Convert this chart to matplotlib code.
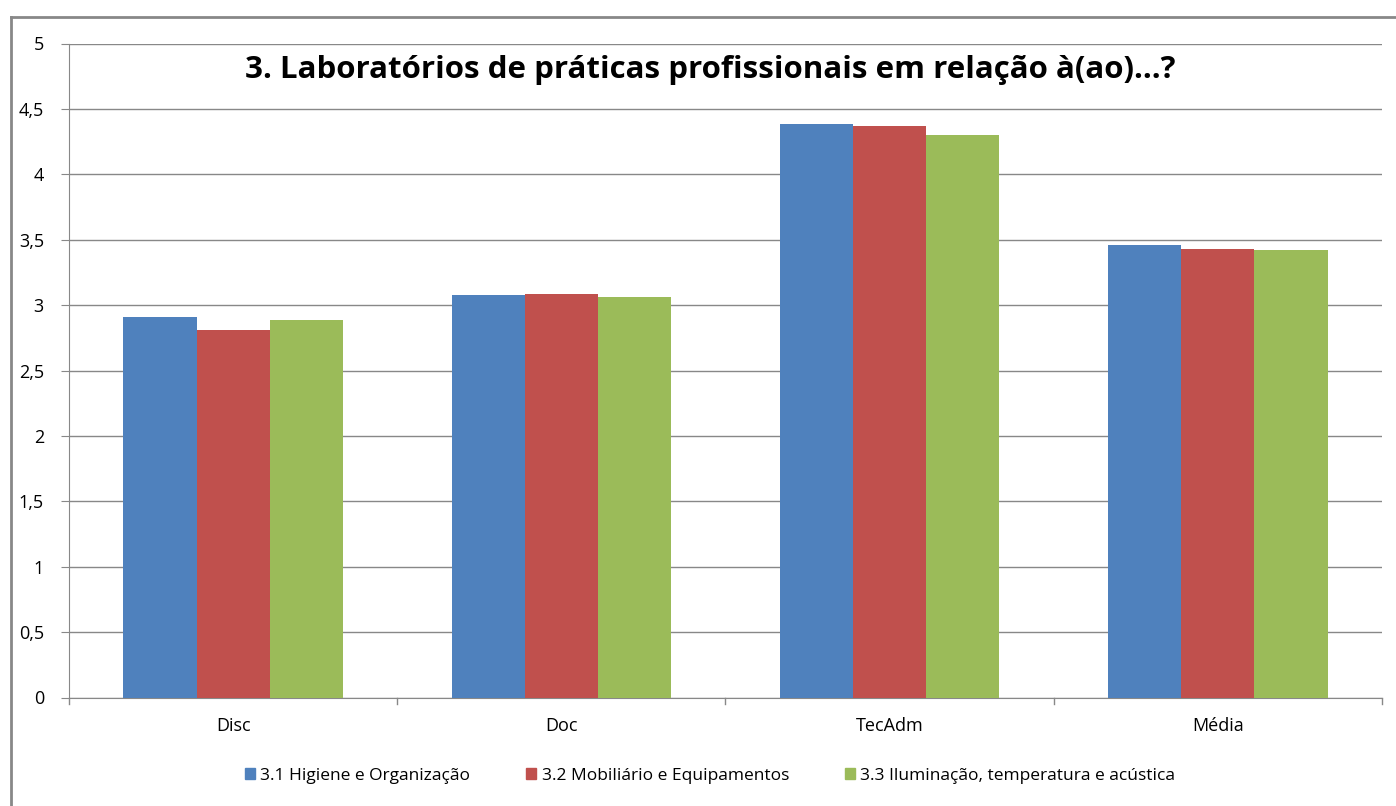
import matplotlib
matplotlib.use("Agg")
import matplotlib.pyplot as plt
import numpy as np
from matplotlib.lines import Line2D

categories = ["Disc", "Doc", "TecAdm", "Média"]
series_names = ["3.1 Higiene e Organização", "3.2 Mobiliário e Equipamentos",
                "3.3 Iluminação, temperatura e acústica"]
higiene = [2.91, 3.075, 4.382, 3.459]
mobiliario = [2.812, 3.087, 4.367, 3.427]
iluminacao = [2.888, 3.062, 4.298, 3.419]
colors = ["#4F81BD", "#C0504D", "#9BBB59"]
yticks = [0, 0.5, 1, 1.5, 2, 2.5, 3, 3.5, 4, 4.5, 5]
ytick_labels = ["0", "0,5", "1", "1,5", "2", "2,5", "3", "3,5", "4", "4,5", "5"]
title = "3. Laboratórios de práticas profissionais em relação à(ao)...?"

plt.rcParams['font.family'] = ['Open Sans', 'DejaVu Sans']

fig = plt.figure(figsize=(13.96, 8.06), dpi=100)
ax = fig.add_axes([69/1396, 1-697.5/806, (1382-69)/1396, (697.5-43.5)/806])

x = np.arange(len(categories))
w = 0.223
for i, (vals, name) in enumerate(zip([higiene, mobiliario, iluminacao], series_names)):
    ax.bar(x + (i-1)*w, vals, w, color=colors[i], label=name, zorder=3)

ax.set_xlim(-0.5, len(categories)-0.5)
ax.set_ylim(0, 5)
ax.set_yticks(yticks)
ax.set_yticklabels(ytick_labels, fontsize=13)
ax.set_xticks(x)
ax.set_xticklabels(categories, fontsize=13)
ax.tick_params(axis='x', length=0, pad=14)
ax.tick_params(axis='y', length=6, color='#888888', pad=12, direction='out')
for b in np.arange(-0.5, len(categories)+0.5, 1):
    ax.plot([b, b], [0, -0.05], color='#888888', lw=1, clip_on=False, transform=ax.transData)
ax.grid(axis='y', color='#888888', lw=1, zorder=0)
for s in ['top', 'right']:
    ax.spines[s].set_visible(False)
ax.spines['left'].set_color('#888888')
ax.spines['bottom'].set_color('#888888')

fig.text(710/1396, 1-70/806, title, ha='center', va='center', fontsize=22.5, fontweight='bold')

handles = [plt.Rectangle((0, 0), 1, 1, color=c) for c in colors]
fig.legend(handles, series_names, loc='center', bbox_to_anchor=(710/1396, 1-776/806),
           ncol=3, frameon=False, fontsize=12.5, handlelength=0.6, handleheight=0.6,
           handletextpad=0.3, columnspacing=3.2)

fig.add_artist(Line2D([11/1396, 1], [1-17/806, 1-17/806], color='#888888', lw=2, transform=fig.transFigure))
fig.add_artist(Line2D([11/1396, 11/1396], [0, 1-17/806], color='#888888', lw=2, transform=fig.transFigure))

fig.savefig("out.png", dpi=100)
